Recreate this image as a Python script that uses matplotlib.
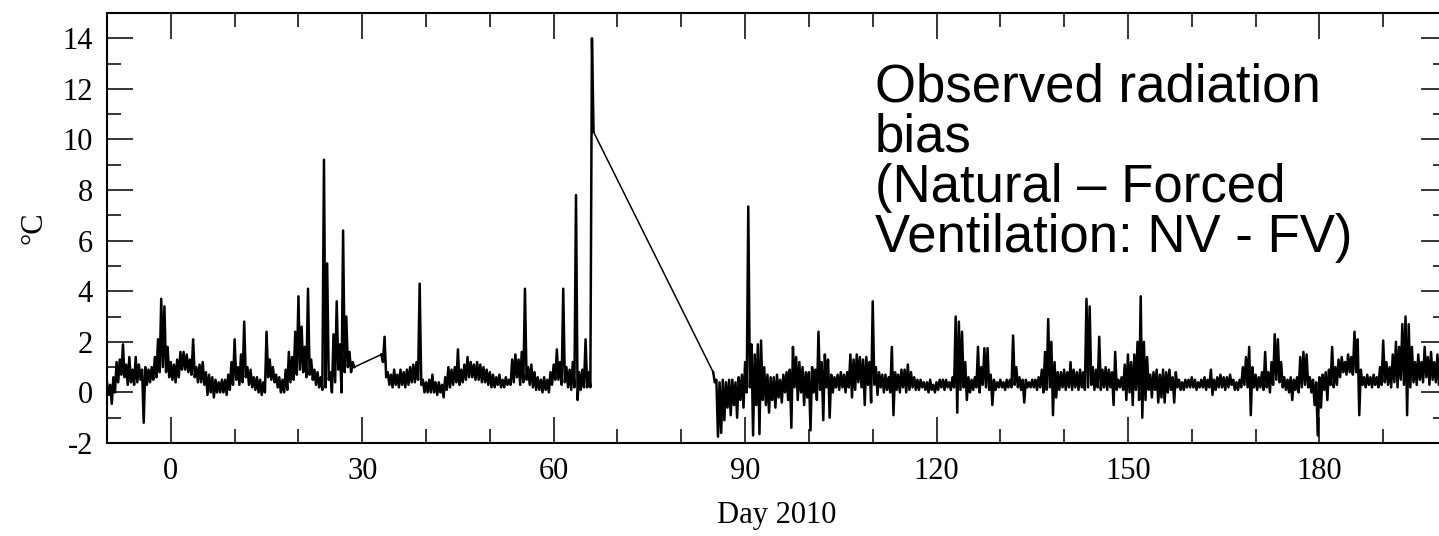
import numpy as np
import matplotlib.pyplot as plt
from matplotlib.ticker import MultipleLocator

plt.rcParams['font.family'] = 'Liberation Serif'
plt.rcParams['axes.unicode_minus'] = False

# NV - FV temperature difference (deg C), quarter-day samples, three logging periods
step = 0.25

start_a = -10.0
bias_a = [
    0.4, -0.1, 0.3, -0.45, 0.6, 0.0, 1.2, 0.4, 1.3, 0.7,
    1.9, 0.6, 1.1, 0.3, 1.4, 0.4, 0.9, 0.3, 1.4, 0.4,
    1.1, 0.5, 0.9, -1.2, 1.0, 0.3, 0.9, 0.4, 1.0, 0.5,
    1.4, 0.6, 2.1, 0.8, 3.7, 1.0, 3.4, 0.8, 1.8, 0.6,
    1.2, 0.5, 1.1, 0.4, 1.3, 0.6, 1.6, 0.9, 1.6, 0.9,
    1.5, 0.8, 1.3, 0.7, 2.1, 0.6, 1.0, 0.4, 1.1, 0.4,
    1.2, 0.3, 0.8, -0.1, 0.7, 0.0, 0.6, -0.2, 0.5, 0.0,
    0.4, 0.0, 0.5, 0.0, 0.5, -0.1, 0.7, 0.1, 1.2, 0.3,
    2.1, 0.5, 1.0, 0.3, 1.5, 0.4, 2.8, 0.6, 1.0, 0.3,
    0.9, 0.2, 0.6, 0.1, 0.6, 0.0, 0.5, -0.1, 0.4, 0.0,
    2.4, 0.6, 1.3, 0.5, 1.0, 0.4, 0.7, 0.2, 0.6, 0.0,
    0.5, 0.0, 0.9, 0.1, 1.6, 0.4, 1.4, 0.5, 2.4, 0.7,
    3.8, 0.9, 2.6, 0.8, 1.8, 0.6, 4.1, 0.7, 1.3, 0.5,
    0.9, 0.3, 0.8, 0.2, 0.6, 0.1, 9.2, 0.2, 5.1, 0.5,
    0.8, 0.0, 2.3, 0.4, 3.6, 0.9, 1.9, 0.0, 6.4, 0.8,
    3.0, 1.0, 1.6, 0.8, 1.2, 1.0,
]

start_b = 33.0
bias_b = [
    1.5, 1.2, 2.2, 0.6, 0.8, 0.3, 0.7, 0.2, 0.9, 0.3,
    0.7, 0.2, 0.9, 0.3, 0.8, 0.2, 0.9, 0.3, 1.0, 0.4,
    1.1, 0.4, 1.2, 0.5, 4.3, 0.3, 0.5, 0.0, 0.4, 0.0,
    0.5, 0.0, 0.7, 0.0, 0.4, -0.1, 0.4, 0.0, 0.3, -0.2,
    0.6, 0.1, 1.0, 0.2, 0.9, 0.3, 1.0, 0.4, 1.7, 0.3,
    0.9, 0.4, 1.1, 0.5, 1.4, 0.6, 1.2, 0.6, 1.1, 0.5,
    1.2, 0.5, 1.1, 0.4, 1.0, 0.4, 0.9, 0.3, 0.8, 0.2,
    0.7, 0.2, 0.6, 0.3, 0.7, 0.2, 0.5, 0.2, 0.6, 0.3,
    0.5, 0.3, 1.3, 0.4, 1.5, 0.6, 1.3, 0.3, 1.6, 0.4,
    4.1, 0.5, 1.0, 0.3, 1.1, 0.2, 0.8, 0.1, 0.6, 0.1,
    0.5, 0.0, 0.6, 0.1, 0.5, 0.0, 0.8, 0.3, 1.1, 0.5,
    1.7, 0.5, 1.2, 0.3, 4.1, 0.4, 1.0, 0.2, 0.9, 0.1,
    1.2, 0.2, 7.8, -0.3, 0.8, 0.1, 0.9, 0.2, 2.1, 0.2,
    0.8, 0.2, 14.0, 10.3,
]

start_c = 85.0
bias_c = [
    0.8, 0.4, 0.5, -1.75, 0.4, -1.6, 0.5, -1.1, 0.4, -0.6,
    0.5, -0.9, 0.5, -0.5, 0.4, -1.0, 0.6, -0.3, 0.7, -0.6,
    1.2, 0.0, 7.35, 0.2, 1.9, -1.7, 1.5, -0.5, 1.9, -1.65,
    2.05, -0.3, 1.0, -0.5, 0.7, -0.8, 0.6, -0.3, 0.6, -0.6,
    0.7, -0.2, 0.5, -0.4, 0.7, 0.0, 0.8, -0.3, 0.9, -1.4,
    1.8, 0.2, 1.4, -0.3, 1.2, 0.0, 1.0, -0.5, 0.8, -0.2,
    0.8, -1.5, 1.0, 0.0, 0.9, -0.3, 2.4, 0.1, 1.2, -1.1,
    1.5, 0.2, 1.3, -1.0, 0.7, 0.0, 0.6, 0.2, 0.7, 0.1,
    0.8, 0.2, 0.7, 0.0, 0.8, 0.2, 1.5, -0.2, 1.3, 0.1,
    1.5, 0.4, 1.4, 0.2, 1.3, -0.5, 1.4, 0.3, 1.2, -0.4,
    3.6, 0.3, 1.0, -0.1, 0.8, 0.2, 0.7, 0.0, 0.7, 0.1,
    0.6, 0.0, 1.8, -0.9, 0.8, 0.1, 0.7, 0.0, 0.9, 0.2,
    0.9, 0.0, 1.1, 0.1, 0.8, 0.2, 0.6, 0.1, 0.5, 0.1,
    0.5, 0.2, 0.4, 0.1, 0.4, 0.0, 0.5, 0.1, 0.3, 0.0,
    0.4, 0.1, 0.5, 0.2, 0.5, 0.1, 0.5, 0.2, 0.4, 0.1,
    0.6, 0.2, 3.0, -0.8, 2.8, 0.1, 2.4, 0.2, 1.2, -0.3,
    0.6, 0.0, 0.5, 0.1, 0.6, 0.2, 1.8, 0.0, 1.0, 0.3,
    1.75, 0.2, 1.75, 0.1, 0.7, -0.5, 0.5, 0.1, 0.4, 0.2,
    0.5, 0.2, 0.4, 0.1, 0.5, 0.2, 0.5, 0.2, 2.25, 0.3,
    1.0, 0.2, 0.6, 0.1, 0.5, -0.4, 0.5, 0.2, 0.4, 0.2,
    0.5, 0.2, 0.5, 0.1, 0.6, 0.2, 0.9, 0.0, 1.6, 0.1,
    2.9, 0.2, 2.0, -0.9, 1.2, -0.2, 0.8, 0.1, 0.8, 0.2,
    0.9, 0.1, 0.8, 0.2, 1.2, 0.1, 0.9, 0.2, 0.8, 0.1,
    0.9, 0.2, 0.8, 0.1, 3.7, 0.2, 3.4, 0.3, 1.0, 0.1,
    0.9, 0.2, 2.2, 0.1, 0.9, 0.2, 1.0, 0.1, 0.9, 0.2,
    0.8, -0.5, 1.6, 0.1, 0.5, 0.2, 0.6, 0.1, 1.1, -0.3,
    1.5, 0.0, 1.2, -0.5, 1.5, 0.1, 2.0, -0.3, 3.8, -1.0,
    2.0, -0.3, 1.4, 0.1, 0.7, -0.2, 0.8, 0.1, 0.9, -0.4,
    0.7, -0.2, 0.9, -0.4, 0.8, 0.0, 0.9, 0.1, 0.6, -0.4,
    0.8, 0.2, 0.5, 0.1, 0.4, 0.1, 0.5, 0.2, 0.5, 0.2,
    0.6, 0.2, 0.5, 0.1, 0.4, 0.2, 0.5, 0.2, 0.6, 0.1,
    0.5, 0.2, 0.9, -0.1, 0.5, 0.1, 0.6, 0.2, 0.7, 0.2,
    0.6, 0.1, 0.6, 0.2, 0.7, 0.3, 0.5, 0.1, 0.4, 0.1,
    0.5, 0.2, 1.0, 0.3, 1.4, 0.2, 1.8, -0.9, 1.0, 0.2,
    0.7, 0.1, 0.6, 0.2, 0.8, 0.1, 1.6, 0.2, 0.8, 0.0,
    1.2, 0.3, 2.3, 0.5, 2.1, 0.4, 1.2, 0.2, 0.6, 0.1,
    0.5, 0.0, 0.6, -0.3, 0.5, 0.1, 0.6, 0.0, 1.4, 0.2,
    1.6, 0.3, 1.5, 0.2, 0.6, 0.0, 0.5, -0.5, 0.4, -1.7,
    0.6, -0.6, 0.7, 0.1, 0.8, -0.3, 0.9, 0.3, 1.8, 0.2,
    1.0, 0.3, 1.3, 0.6, 1.4, 0.8, 1.2, 0.7, 1.5, 0.8,
    1.4, 0.7, 2.4, 0.8, 2.1, -0.9, 0.9, 0.3, 0.6, 0.2,
    0.7, 0.3, 0.6, 0.2, 0.7, 0.3, 0.6, 0.2, 1.0, 0.3,
    2.05, 0.4, 1.2, 0.3, 1.0, 0.2, 1.5, 0.4, 2.0, 0.2,
    1.8, 0.5, 2.7, 0.3, 3.0, -0.9, 2.7, 0.2, 1.8, 0.4,
    1.2, 0.3, 1.5, 0.5, 1.2, 0.4, 1.8, 0.6, 1.4, 0.3,
    1.6, 0.5, 1.2, 0.4, 1.5, 0.3, 1.6, 0.6, 1.2, 0.5,
    1.4, 0.6,
]

segments = []
for start, vals in [(start_a, bias_a), (start_b, bias_b), (start_c, bias_c)]:
    days = start + step * np.arange(len(vals))
    segments.append((days, np.array(vals)))

fig = plt.figure(figsize=(14.39, 5.36), dpi=100)
ax = fig.add_axes([107 / 1439, 93 / 536, 1340 / 1439, 430 / 536])

for days, vals in segments:
    ax.plot(days, vals, color='black', lw=1.8)

# missing data: the gaps are bridged with a straight line
for (d0, v0), (d1, v1) in zip(segments[:-1], segments[1:]):
    ax.plot([d0[-1], d1[0]], [v0[-1], v1[0]], color='black', lw=1.1)

ax.set_xlim(-10, 200)
ax.set_ylim(-2, 15)
ax.xaxis.set_major_locator(MultipleLocator(30))
ax.xaxis.set_minor_locator(MultipleLocator(10))
ax.yaxis.set_major_locator(MultipleLocator(2))
ax.yaxis.set_minor_locator(MultipleLocator(1))
ax.tick_params(which='both', direction='in', top=True, right=True, width=1.1)
ax.tick_params(which='major', length=19, pad=10, labelsize=22)
ax.tick_params(which='minor', length=10)
for spine in ax.spines.values():
    spine.set_linewidth(1.5)

ax.set_xlabel('Day 2010', fontsize=22, labelpad=11)
ax.set_ylabel('°C', fontsize=22, labelpad=10)

fig.text(875 / 1439, 1 - 252 / 536,
         'Observed radiation\nbias\n(Natural – Forced\nVentilation: NV - FV)',
         family='Liberation Sans', fontsize=38, linespacing=1.0,
         ha='left', va='baseline')

fig.savefig('out.png', dpi=100)
